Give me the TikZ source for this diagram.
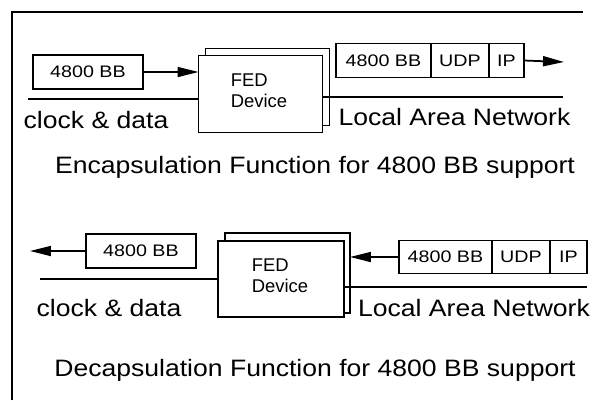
\documentclass[tikz,border=0pt]{standalone}
\usepackage{fontspec}
\setmainfont{Liberation Sans}
\newfontfamily\lblfont[FakeStretch=1.12]{Liberation Sans}
\newfontfamily\boxfont[FakeStretch=1.18]{Liberation Sans}
\usetikzlibrary{positioning,arrows.meta,calc}

\begin{document}
\begin{tikzpicture}[x=.02cm,y=-.02cm,>={Triangle[length=4.2mm,width=2mm]},
  wire/.style={line width=1pt},
  bbox/.style={draw,line width=1pt,inner sep=0,outer sep=0,
    minimum height=.68cm,font=\boxfont\fontsize{9.5}{10}\selectfont},
  fedbox/.style={draw,line width=1pt,fill=white,inner sep=0,outer sep=0,
    minimum width=2.48cm,minimum height=1.54cm},
  fedtext/.style={align=left,font=\fontsize{10.5}{12}\selectfont},
  lbl/.style={font=\lblfont\fontsize{13.5}{15}\selectfont}]
 \useasboundingbox (0,0) rectangle (593,400);
 \draw[line width=1.1pt] (12,400)--(12,12)--(583,12);
 % encapsulation
 \node[bbox,minimum width=2.2cm] (bbA) at (88,72) {4800 BB};
 \node[fedbox] (fedA) at (260.5,94) {};
 \draw[wire] ($(fedA.north west)+(7,0)$) |- ($(fedA.north east)+(7,-7)$)
   |- ($(fedA.south east)+(0,-7)$);
 \node[fedtext] (fedAt) at (259,91) {FED\\Device};
 \draw[->,wire] (bbA.east) -- (bbA.east -| fedA.west);
 \coordinate (ckA) at (28,99);
 \draw[wire] (ckA) -- (ckA -| fedA.west);
 \node[lbl] (ckAl) at (96,120) {clock \& data};
 \node[bbox,minimum width=1.9cm] (pkA1) at (383.5,60.5) {4800 BB};
 \node[bbox,minimum width=1.16cm,right=0pt of pkA1] (pkA2) {UDP};
 \node[bbox,minimum width=.7cm,right=0pt of pkA2] (pkA3) {IP};
 \coordinate (outA) at (564,62);
 \draw[->,wire] (pkA3.east) -- (outA);
 \coordinate (lanA) at (563,97);
 \draw[wire] (lanA -| fedA.east) -- (lanA);
 \node[lbl] (lanAl) at (454.5,117) {Local Area Network};
 \node[lbl] (titA) at (315,167) {Encapsulation Function for 4800 BB support};
 % decapsulation
 \node[bbox,minimum width=2.2cm] (bbB) at (141,251) {4800 BB};
 \coordinate (outB) at (30,251);
 \draw[->,wire] (bbB.west) -- (outB);
 \node[fedbox,minimum width=2.52cm,minimum height=1.52cm] (fedB) at (281,279) {};
 \draw[wire] ($(fedB.north west)+(7,0)$) |- ($(fedB.north east)+(6,-8)$)
   |- ($(fedB.south east)+(0,-4)$);
 \node[fedtext] (fedBt) at (280,276) {FED\\Device};
 \coordinate (ckB) at (40,279);
 \draw[wire] (ckB) -- (ckB -| fedB.west);
 \node[lbl] (ckBl) at (109,308) {clock \& data};
 \node[bbox,minimum width=1.86cm,minimum height=.66cm] (pkB1) at (445.5,257) {4800 BB};
 \node[bbox,minimum width=1.16cm,minimum height=.66cm,right=0pt of pkB1] (pkB2) {UDP};
 \node[bbox,minimum width=.74cm,minimum height=.66cm,right=0pt of pkB2] (pkB3) {IP};
 \draw[->,wire] (pkB1.west) -- ($(pkB1.west -| fedB.east)+(6,0)$);
 \coordinate (lanB) at (587,287);
 \draw[wire] (lanB -| fedB.east) -- (lanB);
 \node[lbl] (lanBl) at (474,308) {Local Area Network};
 \node[lbl] (titB) at (315,370) {Decapsulation Function for 4800 BB support};
\end{tikzpicture}
\end{document}
